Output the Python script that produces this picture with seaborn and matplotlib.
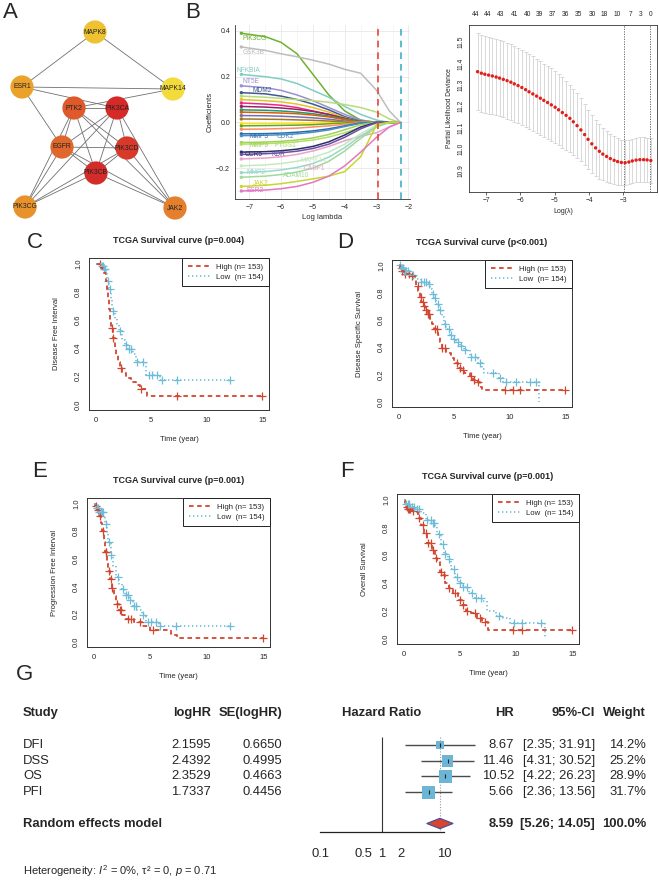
import numpy as np
import pandas as pd
import matplotlib
matplotlib.use("Agg")
import matplotlib.pyplot as plt
import seaborn as sns
from matplotlib.lines import Line2D
from matplotlib.ticker import MultipleLocator

# ======================= DATA =======================
# --- A: PPI network ---
net_nodes = ["MAPK8", "ESR1", "MAPK14", "PTK2", "PIK3CA", "EGFR", "PIK3CD", "PIK3CB", "PIK3CG", "JAK2"]
net_edges = [("MAPK8", "ESR1"), ("MAPK8", "MAPK14"), ("ESR1", "MAPK14"), ("ESR1", "PIK3CA"),
             ("ESR1", "EGFR"), ("MAPK14", "PTK2"), ("PTK2", "PIK3CA"), ("PTK2", "EGFR"),
             ("PTK2", "PIK3CB"), ("PTK2", "PIK3CD"), ("PTK2", "JAK2"), ("PTK2", "PIK3CG"),
             ("PIK3CA", "EGFR"), ("PIK3CA", "PIK3CB"), ("PIK3CA", "PIK3CD"), ("PIK3CA", "JAK2"),
             ("PIK3CA", "PIK3CG"), ("EGFR", "PIK3CD"), ("EGFR", "PIK3CB"), ("EGFR", "PIK3CG"),
             ("EGFR", "JAK2"), ("PIK3CD", "PIK3CB"), ("PIK3CD", "JAK2"), ("PIK3CD", "PIK3CG"),
             ("PIK3CB", "PIK3CG"), ("PIK3CB", "JAK2")]

# --- B left: LASSO coefficient paths ---
lasso_loglambda = [-7.25, -6.5, -6.0, -5.5, -5.0, -4.5, -4.0, -3.5, -3.0, -2.6, -2.25]
lasso_genes = ["PIK3CG", "GSK3B", "NFKBIA", "NT5E", "MDM2", "MAPK1", "HSP90AA1", "PRKCA", "SRC",
               "AKT1", "PPARG", "IGF1R", "PIK3R1", "HIF1A", "ABCB1", "PTPN1", "MMP3", "CDK2",
               "MMP9", "PTGS1", "CCR5", "KDR", "CASP1", "MAPK14", "MMP2", "ADAM10", "JAK2", "ESR2"]
lasso_coefs = [
    [0.39, 0.375, 0.35, 0.30, 0.21, 0.12, 0.05, 0.01, 0, 0, 0],
    [0.33, 0.315, 0.30, 0.287, 0.272, 0.255, 0.232, 0.215, 0.14, 0.05, 0],
    [0.21, 0.20, 0.19, 0.17, 0.14, 0.11, 0.07, 0.035, 0.01, 0, 0],
    [0.16, 0.152, 0.14, 0.12, 0.095, 0.065, 0.035, 0.01, 0, 0, 0],
    [0.13, 0.125, 0.115, 0.10, 0.08, 0.055, 0.025, 0.005, 0, 0, 0],
    [0.115, 0.11, 0.105, 0.10, 0.095, 0.088, 0.078, 0.065, 0.045, 0.015, 0],
    [0.10, 0.095, 0.09, 0.08, 0.065, 0.045, 0.02, 0.003, 0, 0, 0],
    [0.085, 0.08, 0.075, 0.065, 0.05, 0.035, 0.015, 0, 0, 0, 0],
    [0.07, 0.067, 0.063, 0.057, 0.048, 0.035, 0.018, 0.003, 0, 0, 0],
    [0.055, 0.053, 0.05, 0.045, 0.038, 0.028, 0.015, 0.002, 0, 0, 0],
    [0.045, 0.043, 0.041, 0.038, 0.032, 0.024, 0.012, 0, 0, 0, 0],
    [0.03, 0.029, 0.027, 0.024, 0.02, 0.014, 0.006, 0, 0, 0, 0],
    [0.015, 0.014, 0.013, 0.011, 0.009, 0.006, 0.002, 0, 0, 0, 0],
    [-0.005, -0.005, -0.004, -0.004, -0.003, -0.002, -0.001, 0, 0, 0, 0],
    [-0.015, -0.014, -0.013, -0.012, -0.01, -0.006, -0.002, 0, 0, 0, 0],
    [-0.03, -0.029, -0.027, -0.025, -0.02, -0.015, -0.008, 0, 0, 0, 0],
    [-0.05, -0.049, -0.047, -0.043, -0.037, -0.028, -0.015, -0.002, 0, 0, 0],
    [-0.058, -0.056, -0.054, -0.05, -0.043, -0.033, -0.018, -0.004, 0, 0, 0],
    [-0.088, -0.086, -0.083, -0.077, -0.068, -0.053, -0.032, -0.01, 0, 0, 0],
    [-0.095, -0.093, -0.09, -0.085, -0.077, -0.064, -0.045, -0.022, -0.005, 0, 0],
    [-0.13, -0.128, -0.124, -0.117, -0.105, -0.085, -0.055, -0.02, 0, 0, 0],
    [-0.14, -0.137, -0.133, -0.126, -0.114, -0.095, -0.065, -0.028, 0, 0, 0],
    [-0.16, -0.156, -0.15, -0.14, -0.125, -0.105, -0.08, -0.06, -0.045, -0.02, 0],
    [-0.19, -0.186, -0.18, -0.17, -0.153, -0.13, -0.095, -0.05, -0.012, 0, 0],
    [-0.22, -0.215, -0.208, -0.197, -0.18, -0.152, -0.11, -0.06, -0.018, 0, 0],
    [-0.24, -0.235, -0.228, -0.217, -0.2, -0.17, -0.125, -0.07, -0.02, 0, 0],
    [-0.28, -0.275, -0.268, -0.258, -0.247, -0.235, -0.215, -0.15, -0.01, 0, 0],
    [-0.30, -0.296, -0.29, -0.28, -0.262, -0.235, -0.19, -0.13, -0.065, -0.02, 0],
]
lasso_labels = [("PIK3CG", -7.2, 0.368), ("GSK3B", -7.2, 0.305), ("NFKBIA", -7.4, 0.228),
                ("NT5E", -7.2, 0.178), ("MDM2", -6.9, 0.14), ("MMP3", -7.0, -0.062),
                ("CDK2", -6.15, -0.062), ("MMP9", -7.0, -0.103), ("PTGS1", -6.2, -0.103),
                ("CCR5", -7.15, -0.14), ("KDR", -6.3, -0.14), ("CASP1", -5.3, -0.2),
                ("MAPK14", -5.4, -0.165), ("MMP2", -7.1, -0.22), ("ADAM10", -5.95, -0.233),
                ("JAK2", -6.9, -0.268), ("ESR2", -7.1, -0.30)]
lambda_min = -2.97
lambda_1se = -2.22

# --- B right: cross-validation curve ---
cv_loglambda = [-7.25, -7.14, -7.04, -6.93, -6.82, -6.71, -6.61, -6.50, -6.39, -6.28, -6.18, -6.07,
                -5.96, -5.85, -5.75, -5.64, -5.53, -5.42, -5.32, -5.21, -5.10, -4.99, -4.89, -4.78,
                -4.67, -4.56, -4.46, -4.35, -4.24, -4.13, -4.03, -3.92, -3.81, -3.70, -3.60, -3.49,
                -3.38, -3.27, -3.17, -3.06, -2.95, -2.84, -2.74, -2.63, -2.52, -2.41, -2.31, -2.20]
cv_mean = [11.362, 11.355, 11.350, 11.346, 11.342, 11.337, 11.332, 11.326, 11.320, 11.313, 11.305,
           11.297, 11.288, 11.278, 11.268, 11.258, 11.248, 11.238, 11.228, 11.218, 11.207, 11.196,
           11.184, 11.171, 11.158, 11.144, 11.128, 11.110, 11.090, 11.068, 11.046, 11.025, 11.006,
           10.990, 10.977, 10.966, 10.956, 10.948, 10.942, 10.938, 10.937, 10.940, 10.945, 10.949,
           10.951, 10.951, 10.950, 10.947]
cv_se = [0.180, 0.180, 0.180, 0.180, 0.179, 0.179, 0.179, 0.178, 0.178, 0.178, 0.177, 0.177,
         0.176, 0.176, 0.175, 0.175, 0.174, 0.173, 0.172, 0.171, 0.170, 0.168, 0.166, 0.164,
         0.161, 0.158, 0.155, 0.151, 0.147, 0.143, 0.139, 0.135, 0.131, 0.127, 0.123, 0.119,
         0.115, 0.112, 0.109, 0.106, 0.105, 0.104, 0.104, 0.104, 0.104, 0.104, 0.104, 0.103]
cv_nz_pos = [-7.32, -6.97, -6.59, -6.18, -5.80, -5.45, -5.07, -4.69, -4.31, -3.90, -3.55, -3.17,
             -2.79, -2.50, -2.21]
cv_nz = [44, 44, 43, 41, 40, 39, 37, 36, 35, 30, 18, 10, 7, 3, 0]

# --- C-F: Kaplan-Meier curves ---
dfi_high_t = [0, 0.5, 0.7, 0.9, 1.0, 1.1, 1.2, 1.3, 1.4, 1.55, 1.7, 1.85, 2.0, 2.15, 2.4, 2.7, 3.2, 3.6, 4.0, 4.6, 15]
dfi_high_s = [1.0, 0.97, 0.93, 0.88, 0.82, 0.75, 0.68, 0.60, 0.54, 0.47, 0.40, 0.35, 0.30, 0.26, 0.22, 0.19, 0.16, 0.14, 0.11, 0.06, 0.06]
dfi_high_c = [0.4, 1.45, 1.6, 2.25, 4.1, 7.3, 15]
dfi_low_t = [0, 0.5, 0.7, 0.9, 1.05, 1.2, 1.35, 1.5, 1.7, 1.9, 2.1, 2.4, 2.6, 2.9, 3.4, 3.6, 4.5, 5.8, 12.1]
dfi_low_s = [1.0, 0.98, 0.96, 0.93, 0.88, 0.82, 0.75, 0.66, 0.61, 0.57, 0.52, 0.46, 0.42, 0.39, 0.36, 0.30, 0.21, 0.17, 0.17]
dfi_low_c = [0.55, 0.65, 0.75, 0.85, 1.1, 1.25, 1.6, 2.2, 2.7, 3.0, 3.2, 3.7, 4.3, 4.8, 5.1, 5.5, 6.0, 7.3, 12.1]

dss_high_t = [0, 0.1, 0.5, 1.0, 1.45, 1.6, 1.75, 1.9, 2.05, 2.2, 2.4, 2.6, 2.8, 3.0, 3.2, 3.5, 3.7, 3.9, 4.3, 4.7, 5.0, 5.3, 5.6, 5.9, 6.4, 6.7, 7.0, 7.3, 7.5, 15]
dss_high_s = [1.0, 0.96, 0.94, 0.92, 0.89, 0.85, 0.81, 0.77, 0.73, 0.70, 0.67, 0.64, 0.61, 0.57, 0.53, 0.49, 0.44, 0.39, 0.36, 0.32, 0.28, 0.25, 0.23, 0.21, 0.19, 0.16, 0.14, 0.11, 0.085, 0.085]
dss_high_c = [0.3, 0.45, 0.6, 0.9, 1.2, 1.7, 2.0, 2.15, 2.3, 2.45, 2.65, 2.75, 3.3, 3.45, 3.9, 4.2, 5.25, 5.5, 5.8, 6.5, 6.75, 7.1, 9.6, 10.3, 10.9, 15]
dss_low_t = [0, 0.2, 0.5, 1.0, 1.5, 2.0, 2.6, 2.8, 3.0, 3.2, 3.4, 3.6, 3.9, 4.1, 4.3, 4.6, 4.9, 5.2, 5.5, 5.9, 6.4, 7.1, 7.5, 7.7, 9.0, 9.4, 12.6]
dss_low_s = [1.0, 0.98, 0.96, 0.93, 0.90, 0.88, 0.86, 0.83, 0.79, 0.76, 0.72, 0.67, 0.62, 0.57, 0.53, 0.49, 0.46, 0.44, 0.41, 0.38, 0.33, 0.28, 0.24, 0.21, 0.17, 0.14, 0.0]
dss_low_c = [0.1, 0.2, 0.3, 0.4, 0.5, 0.6, 0.7, 0.8, 1.3, 2.0, 2.3, 2.45, 2.7, 3.05, 3.3, 3.55, 3.7, 4.2, 4.5, 4.75, 5.0, 5.3, 5.6, 5.95, 6.5, 6.9, 7.3, 8.5, 9.1, 9.7, 10.6, 11.8, 12.4]

pfi_high_t = [0, 0.15, 0.3, 0.45, 0.6, 0.75, 0.9, 1.0, 1.15, 1.3, 1.45, 1.6, 1.8, 2.0, 2.2, 2.5, 2.8, 3.6, 4.3, 5.0, 6.8, 7.4, 15]
pfi_high_s = [1.0, 0.98, 0.95, 0.91, 0.86, 0.80, 0.72, 0.65, 0.58, 0.51, 0.45, 0.39, 0.33, 0.27, 0.23, 0.19, 0.16, 0.14, 0.11, 0.085, 0.05, 0.025, 0.025]
pfi_high_c = [0.2, 0.35, 0.55, 0.8, 1.05, 1.1, 1.35, 1.5, 1.65, 2.05, 2.3, 2.4, 3.0, 3.3, 4.1, 5.2, 15]
pfi_low_t = [0, 0.2, 0.5, 0.85, 1.0, 1.15, 1.3, 1.5, 1.7, 1.95, 2.2, 2.5, 2.8, 3.1, 3.5, 3.8, 4.3, 4.6, 5.8, 12.1]
pfi_low_s = [1.0, 0.97, 0.94, 0.91, 0.85, 0.79, 0.72, 0.63, 0.55, 0.47, 0.42, 0.38, 0.34, 0.30, 0.26, 0.23, 0.19, 0.14, 0.11, 0.11]
pfi_low_c = [0.3, 0.4, 0.5, 0.6, 0.7, 0.8, 1.05, 1.35, 1.55, 2.1, 2.6, 2.85, 3.0, 3.25, 3.6, 3.75, 4.4, 4.8, 5.1, 5.5, 5.9, 7.3, 12.1]

os_high_t = [0, 0.1, 0.3, 0.7, 1.0, 1.3, 1.5, 1.8, 2.1, 2.5, 2.8, 3.0, 3.2, 3.5, 3.7, 4.0, 4.4, 4.8, 5.2, 5.5, 6.0, 6.5, 7.0, 7.5, 15]
os_high_s = [1.0, 0.95, 0.93, 0.92, 0.91, 0.87, 0.82, 0.76, 0.69, 0.64, 0.58, 0.55, 0.48, 0.46, 0.40, 0.36, 0.33, 0.28, 0.24, 0.20, 0.18, 0.15, 0.12, 0.06, 0.06]
os_high_c = [0.25, 0.4, 0.5, 0.6, 0.8, 1.4, 1.7, 2.0, 2.2, 2.4, 2.6, 2.85, 3.3, 3.55, 4.05, 4.6, 5.0, 5.25, 5.6, 6.3, 6.8, 7.2, 9.7, 10.5, 15]
os_low_t = [0, 0.2, 0.6, 1.0, 1.5, 2.0, 2.5, 2.8, 3.0, 3.3, 3.6, 3.9, 4.2, 4.6, 4.9, 5.3, 5.8, 6.3, 7.0, 7.4, 8.2, 8.8, 9.5, 12.6]
os_low_s = [1.0, 0.97, 0.95, 0.93, 0.90, 0.85, 0.83, 0.80, 0.75, 0.68, 0.61, 0.57, 0.50, 0.44, 0.40, 0.37, 0.33, 0.29, 0.27, 0.20, 0.16, 0.15, 0.11, 0.0]
os_low_c = [0.2, 0.35, 0.5, 0.7, 0.9, 1.2, 1.4, 2.1, 2.4, 2.6, 2.7, 3.1, 3.5, 3.7, 4.0, 4.5, 4.7, 5.0, 5.3, 5.6, 6.1, 6.4, 6.9, 8.5, 9.8, 10.5, 12.2]

# --- G: meta-analysis forest plot ---
meta_study = ["DFI", "DSS", "OS", "PFI"]
meta_loghr = [2.1595, 2.4392, 2.3529, 1.7337]
meta_se = [0.6650, 0.4995, 0.4663, 0.4456]
meta_hr = [8.67, 11.46, 10.52, 5.66]
meta_lo = [2.35, 4.31, 4.22, 2.36]
meta_hi = [31.91, 30.52, 26.23, 13.56]
meta_weight = [14.2, 25.2, 28.9, 31.7]
pooled_hr, pooled_lo, pooled_hi = 8.59, 5.26, 14.05
forest_ticks = [0.1, 0.5, 1, 2, 10]

# ======================= STYLE / LAYOUT =======================
sns.set_style("white")
plt.rcParams["font.family"] = ["Liberation Sans", "DejaVu Sans"]
plt.rcParams["mathtext.fontset"] = "custom"
plt.rcParams["mathtext.rm"] = "Liberation Sans"
plt.rcParams["mathtext.it"] = "Liberation Sans:italic"
plt.rcParams["axes.linewidth"] = 0.7

W, H = 659, 880
fig = plt.figure(figsize=(W / 100, H / 100), dpi=100)
fig.patch.set_facecolor("white")


def px_axes(l, t, r, b):
    return fig.add_axes([l / W, 1 - b / H, (r - l) / W, (b - t) / H])


def panel_letter(x, y, s):
    fig.text(x / W, 1 - y / H, s, fontsize=16, ha="left", va="top")


# ---------------- A ----------------
node_px_x = [95, 22, 173, 74, 117, 62, 127, 96, 25, 175]
node_px_y = [32, 87, 89, 108, 108, 147, 148, 173, 207, 208]
node_colors = {"MAPK8": "#EFC232", "ESR1": "#EBA22B", "MAPK14": "#F2DB3A", "PTK2": "#DE5A2A",
               "PIK3CA": "#D52A27", "EGFR": "#E0682D", "PIK3CD": "#D73A2A", "PIK3CB": "#D42C29",
               "PIK3CG": "#E8922C", "JAK2": "#E47F2D"}
axa = px_axes(0, 0, 205, 222)
pos = dict(zip(net_nodes, zip(node_px_x, node_px_y)))
for u, v in net_edges:
    axa.plot([pos[u][0], pos[v][0]], [pos[u][1], pos[v][1]], color="#707070", lw=0.6, zorder=1)
sns.scatterplot(x=node_px_x, y=node_px_y, hue=net_nodes, palette=node_colors, s=280,
                legend=False, edgecolor="none", ax=axa, zorder=2)
for n in net_nodes:
    axa.text(pos[n][0], pos[n][1], n, fontsize=4.9, ha="center", va="center", zorder=3,
             color="#222222")
axa.set_xlim(0, 205)
axa.set_ylim(222, 0)
axa.axis("off")

# ---------------- B left ----------------
lasso_colors = ["#6BB32E", "#BDBDBD", "#80CDC1", "#9A8FD3", "#3E5A8E", "#B8DB7A", "#E6C229",
                "#E7298A", "#9E1F63", "#1B9E77", "#D95F02", "#7570B3", "#A6761D", "#FFE119",
                "#66A61E", "#FC8D62", "#2B6CB0", "#4A8FC4", "#9FD356", "#B3DE69", "#2D2D6B",
                "#6A51A3", "#E9A3C9", "#C7E9C0", "#99D8C9", "#A1D99B", "#C5D82B", "#E377C2"]
lasso_palette = dict(zip(lasso_genes, lasso_colors))
rows = []
for g, coefs in zip(lasso_genes, lasso_coefs):
    for x, c in zip(lasso_loglambda, coefs):
        rows.append((g, x, c))
dfl = pd.DataFrame(rows, columns=["gene", "loglam", "coef"])
axb = px_axes(235, 25, 410, 199)
sns.lineplot(data=dfl, x="loglam", y="coef", hue="gene", palette=lasso_palette, lw=1.1,
             legend=False, estimator=None, ax=axb)
start = dfl[dfl["loglam"] == lasso_loglambda[0]]
sns.scatterplot(data=start, x="loglam", y="coef", hue="gene", palette=lasso_palette, s=6,
                legend=False, edgecolor="none", ax=axb)
for lab, x, y in lasso_labels:
    axb.text(x, y, lab, color=lasso_palette[lab], fontsize=4.8, ha="left", va="center")
axb.axvline(lambda_min, color="#E8453C", ls=(0, (4, 3)), lw=1.2)
axb.axvline(lambda_1se, color="#3FB0C6", ls=(0, (4, 3)), lw=1.2)
axb.set_xlim(-7.45, -1.95)
axb.set_ylim(-0.335, 0.426)
axb.set_xticks([-7, -6, -5, -4, -3, -2])
axb.set_yticks([-0.2, 0.0, 0.2, 0.4])
axb.xaxis.set_minor_locator(MultipleLocator(0.5))
axb.yaxis.set_minor_locator(MultipleLocator(0.1))
axb.grid(True, which="major", color="#E3E3E3", lw=0.5)
axb.grid(True, which="minor", color="#F0F0F0", lw=0.4)
axb.set_axisbelow(True)
axb.set_xlabel("Log lambda", fontsize=5.5, labelpad=2)
axb.set_ylabel("Coefficients", fontsize=5.5, labelpad=2)
axb.tick_params(which="major", labelsize=5, length=2, pad=1.5, width=0.5)
axb.tick_params(which="minor", length=0)
for sp in ["top", "right"]:
    axb.spines[sp].set_visible(False)
for sp in ["left", "bottom"]:
    axb.spines[sp].set_color("#333333")
    axb.spines[sp].set_linewidth(0.6)

# ---------------- B right ----------------
axc = px_axes(469, 25, 657, 192)
axc.errorbar(cv_loglambda, cv_mean, yerr=cv_se, fmt="none", ecolor="#D2D2D2", elinewidth=0.6,
             capsize=1.3, capthick=0.6, zorder=1)
sns.scatterplot(x=cv_loglambda, y=cv_mean, color="#E0201B", s=6, edgecolor="none", ax=axc, zorder=3)
axc.axvline(lambda_min, color="#555555", ls=(0, (1.5, 1.5)), lw=0.6)
axc.axvline(lambda_1se, color="#555555", ls=(0, (1.5, 1.5)), lw=0.6)
axc.set_xlim(-7.5, -2.02)
axc.set_ylim(10.80, 11.58)
axc.set_xticks([-7, -6, -5, -4, -3])
axc.set_yticks([10.9, 11.0, 11.1, 11.2, 11.3, 11.4, 11.5])
axc.tick_params(labelsize=4.8, length=2, pad=1.5, width=0.5)
axc.tick_params(axis="y", labelrotation=90)
for lbl in axc.get_yticklabels():
    lbl.set_va("center")
axc.set_xlabel("Log(λ)", fontsize=5, labelpad=3)
axc.set_ylabel("Partial Likelihood Deviance", fontsize=4.8, labelpad=3)
for sp in axc.spines.values():
    sp.set_color("#333333")
    sp.set_linewidth(0.6)
axt = axc.twiny()
axt.set_xlim(axc.get_xlim())
axt.set_xticks(cv_nz_pos)
axt.set_xticklabels([str(v) for v in cv_nz])
axt.tick_params(labelsize=4.8, length=0, pad=5)
for sp in axt.spines.values():
    sp.set_visible(False)

# ---------------- C-F survival ----------------
RED = "#D2452F"
BLUE = "#6FBCD8"


def step_at(t, s, q):
    idx = np.searchsorted(np.asarray(t), np.asarray(q), side="right") - 1
    return np.asarray(s)[idx]


def km_panel(ax, ht, hs, hc, lt, ls_, lc, ylabel, title):
    sns.lineplot(x=ht, y=hs, ax=ax, color=RED, lw=1.3, drawstyle="steps-post",
                 linestyle=(0, (2.5, 2.0)), estimator=None, sort=False)
    sns.lineplot(x=lt, y=ls_, ax=ax, color=BLUE, lw=1.2, drawstyle="steps-post",
                 linestyle=(0, (0.8, 1.6)), estimator=None, sort=False)
    sns.scatterplot(x=hc, y=step_at(ht, hs, hc), ax=ax, marker="+", s=28, color=RED, linewidth=0.9)
    sns.scatterplot(x=lc, y=step_at(lt, ls_, lc), ax=ax, marker="+", s=28, color=BLUE, linewidth=0.9)
    ax.set_xlim(-0.6, 15.6)
    ax.set_ylim(-0.04, 1.04)
    ax.set_xticks([0, 5, 10, 15])
    ax.set_yticks([0.0, 0.2, 0.4, 0.6, 0.8, 1.0])
    ax.set_yticklabels(["0.0", "0.2", "0.4", "0.6", "0.8", "1.0"])
    ax.tick_params(labelsize=5.5, length=2.5, pad=2.5, width=0.6)
    ax.tick_params(axis="y", labelrotation=90)
    for lbl in ax.get_yticklabels():
        lbl.set_va("center")
    ax.set_xlabel("Time (year)", fontsize=5.5, labelpad=9)
    ax.set_ylabel(ylabel, fontsize=5.5, labelpad=11)
    ax.set_title(title, fontsize=6.5, fontweight="bold", pad=11)
    for sp in ax.spines.values():
        sp.set_color("#333333")
        sp.set_linewidth(0.7)
    handles = [Line2D([], [], color=RED, lw=1.3, ls=(0, (2.5, 2.0))),
               Line2D([], [], color=BLUE, lw=1.2, ls=(0, (0.8, 1.6)))]
    leg = ax.legend(handles, ["High (n= 153)", "Low  (n= 154)"], loc="upper right", fontsize=5.6,
                    frameon=True, fancybox=False, edgecolor="#222222", borderaxespad=0,
                    handlelength=2.8, borderpad=0.7, labelspacing=0.3, framealpha=1)
    leg.get_frame().set_linewidth(0.7)


axC = px_axes(89, 258, 269, 410)
km_panel(axC, dfi_high_t, dfi_high_s, dfi_high_c, dfi_low_t, dfi_low_s, dfi_low_c,
         "Disease Free Interval", "TCGA Survival curve (p=0.004)")
axD = px_axes(392, 260, 572, 407)
km_panel(axD, dss_high_t, dss_high_s, dss_high_c, dss_low_t, dss_low_s, dss_low_c,
         "Disease Specific Survival", "TCGA Survival curve (p<0.001)")
axE = px_axes(87, 498, 270, 647)
km_panel(axE, pfi_high_t, pfi_high_s, pfi_high_c, pfi_low_t, pfi_low_s, pfi_low_c,
         "Progression Free Interval", "TCGA Survival curve (p=0.001)")
axF = px_axes(397, 494, 579, 644)
km_panel(axF, os_high_t, os_high_s, os_high_c, os_low_t, os_low_s, os_low_c,
         "Overall Survival", "TCGA Survival curve (p=0.001)")

# ---------------- G forest ----------------
ROW0, ROWH = 745, 15.7
ytop, ybot = (695 - ROW0) / ROWH, (880 - ROW0) / ROWH
FS = 9.4
axg = px_axes(0, 695, 659, 880)
axg.set_xlim(0, 659)
axg.set_ylim(ybot, ytop)
axg.axis("off")
hdr = -2.04
axg.text(23, hdr, "Study", ha="left", va="center", fontsize=FS, fontweight="bold")
axg.text(211, hdr, "logHR", ha="right", va="center", fontsize=FS, fontweight="bold")
axg.text(282, hdr, "SE(logHR)", ha="right", va="center", fontsize=FS, fontweight="bold")
axg.text(382, hdr, "Hazard Ratio", ha="center", va="center", fontsize=FS, fontweight="bold")
axg.text(514, hdr, "HR", ha="right", va="center", fontsize=FS, fontweight="bold")
axg.text(595, hdr, "95%-CI", ha="right", va="center", fontsize=FS, fontweight="bold")
axg.text(646, hdr, "Weight", ha="right", va="center", fontsize=FS, fontweight="bold")
for i, st in enumerate(meta_study):
    axg.text(23, i, st, ha="left", va="center", fontsize=FS)
    axg.text(211, i, f"{meta_loghr[i]:.4f}", ha="right", va="center", fontsize=FS)
    axg.text(282, i, f"{meta_se[i]:.4f}", ha="right", va="center", fontsize=FS)
    axg.text(514, i, f"{meta_hr[i]:.2f}", ha="right", va="center", fontsize=FS)
    axg.text(595, i, f"[{meta_lo[i]:.2f}; {meta_hi[i]:.2f}]", ha="right", va="center", fontsize=FS)
    axg.text(646, i, f"{meta_weight[i]:.1f}%", ha="right", va="center", fontsize=FS)
re_row = 5
axg.text(23, re_row, "Random effects model", ha="left", va="center", fontsize=FS, fontweight="bold")
axg.text(514, re_row, f"{pooled_hr:.2f}", ha="right", va="center", fontsize=FS, fontweight="bold")
axg.text(595, re_row, f"[{pooled_lo:.2f}; {pooled_hi:.2f}]", ha="right", va="center", fontsize=FS, fontweight="bold")
axg.text(646, re_row, "100.0%", ha="right", va="center", fontsize=FS, fontweight="bold")
axg.text(23, 8.05, "Heterogeneity: $I^2$ = 0%, τ² = 0, $p$ = 0.71", ha="left", va="center", fontsize=8)

axf = px_axes(300, 695, 480, 880)
axf.patch.set_alpha(0)
axf.set_xscale("log")
axis_row = 5.54
axf.vlines(1, -0.5, axis_row, color="#333333", lw=0.8)
axf.vlines(pooled_hr, -0.5, axis_row, color="#999999", lw=0.8, linestyles=(0, (1, 1.5)))
rows_idx = list(range(len(meta_study)))
axf.hlines(rows_idx, meta_lo, meta_hi, color="#4A4A4A", lw=1.0, zorder=2)
sns.scatterplot(x=meta_hr, y=rows_idx, size=meta_weight, sizes=(39, 88), size_norm=(14.2, 31.7),
                marker="s", color="#6CB5D4", edgecolor="none", legend=False, ax=axf, zorder=3)
axf.scatter(meta_hr, rows_idx, marker="|", s=10, color="#222222", lw=0.8, zorder=4)
axf.fill([pooled_lo, pooled_hr, pooled_hi, pooled_hr], [re_row, re_row - 0.33, re_row, re_row + 0.33],
         facecolor="#D9432F", edgecolor="#3A4FA0", lw=0.8, zorder=3)
axf.set_xlim(10 ** (-1 - 20 / 62), 10 ** (1 + 36 / 62))
axf.set_ylim(ybot, ytop)
for sp in ["top", "right", "left"]:
    axf.spines[sp].set_visible(False)
axf.spines["bottom"].set_position(("data", axis_row))
axf.spines["bottom"].set_bounds(0.1, 10)
axf.spines["bottom"].set_linewidth(0.9)
axf.spines["bottom"].set_color("#222222")
axf.set_xticks(forest_ticks)
axf.set_xticklabels(["0.1", "0.5", "1", "2", "10"])
axf.xaxis.set_minor_locator(matplotlib.ticker.NullLocator())
axf.tick_params(axis="x", direction="out", length=4.5, width=0.9, labelsize=FS, pad=7)
axf.set_yticks([])
axf.set_xlabel("")
axf.set_ylabel("")

# ---------------- letters ----------------
panel_letter(3, 2.5, "A")
panel_letter(185, 2.5, "B")
panel_letter(27, 232, "C")
panel_letter(337, 232, "D")
panel_letter(32, 460.5, "E")
panel_letter(340, 461, "F")
panel_letter(16, 663.5, "G")

fig.savefig("out.png", dpi=100)
